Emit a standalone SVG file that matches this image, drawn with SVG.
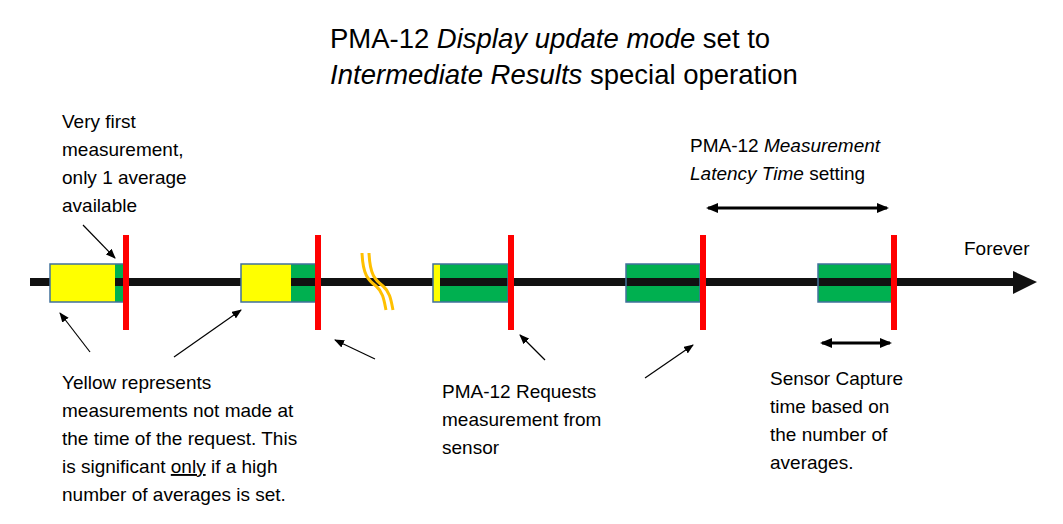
<svg xmlns="http://www.w3.org/2000/svg" width="1063" height="524" viewBox="0 0 1063 524">
<style>
text{font-family:"Liberation Sans",Arial,sans-serif;fill:#000}
.t{font-size:27.5px}.l{font-size:19px}
.y{fill:#ffff00}.g{fill:#00b050}.o{fill:none;stroke:#41719c;stroke-width:1.5}
.r{fill:#ff0000}
.a{stroke:#000;stroke-width:1.2;fill:none;marker-end:url(#ah)}
.d{stroke:#000;stroke-width:3;fill:none;marker-start:url(#dh);marker-end:url(#dh)}
</style>
<defs>
<marker id="ah" markerWidth="10" markerHeight="8" refX="9" refY="4" orient="auto" markerUnits="userSpaceOnUse"><path d="M0,0L10,4L0,8z"/></marker>
<marker id="dh" markerWidth="12" markerHeight="10" refX="10" refY="5" orient="auto-start-reverse" markerUnits="userSpaceOnUse"><path d="M0,0L12,5L0,10z"/></marker>
</defs>
<rect width="1063" height="524" fill="#fff"/>
<text class="t" text-anchor="middle" x="550" y="48">PMA-12 <tspan font-style="italic">Display update mode</tspan> set to</text>
<text class="t" text-anchor="middle" x="564" y="84"><tspan font-style="italic">Intermediate Results</tspan> special operation</text>
<g id="timeline"><rect x="30" y="278" width="985" height="8" fill="#111"/><path d="M1013,271L1037,282L1013,294z" fill="#111"/>
<text class="l" x="964" y="255">Forever</text></g>
<g id="m1"><rect class="y" x="50" y="264" width="65" height="38"/><rect class="g" x="115" y="264" width="10" height="38"/><rect x="115" y="278" width="10" height="8" fill="#111"/><rect class="o" x="50" y="264" width="75" height="38"/><rect class="r" x="123" y="235" width="6" height="95"/></g>
<g id="m2"><rect class="y" x="241" y="264" width="50" height="38"/><rect class="g" x="291" y="264" width="25" height="38"/><rect x="291" y="278" width="25" height="8" fill="#111"/><rect class="o" x="241" y="264" width="75" height="38"/><rect class="r" x="315" y="235" width="6" height="95"/></g>
<g id="brk" fill="none" stroke="#ffc000" stroke-width="3"><path d="M362,253C363,275 368,280 376,286C383,292 384,300 386,310"/><path d="M369,253C370,275 375,280 383,286C390,292 391,300 393,310"/></g>
<g id="m3"><rect class="y" x="433" y="264" width="7" height="38"/><rect class="g" x="440" y="264" width="68" height="38"/><rect x="440" y="278" width="68" height="8" fill="#111"/><rect class="o" x="433" y="264" width="75" height="38"/><rect class="r" x="508" y="235" width="6" height="95"/></g>
<g id="m4"><rect class="g" x="626" y="264" width="74" height="38"/><rect x="626" y="278" width="74" height="8" fill="#111"/><rect class="o" x="626" y="264" width="74" height="38"/><rect class="r" x="700" y="235" width="6" height="95"/></g>
<g id="m5"><rect class="g" x="818" y="264" width="74" height="38"/><rect x="818" y="278" width="74" height="8" fill="#111"/><rect class="o" x="818" y="264" width="74" height="38"/><rect class="r" x="891" y="235" width="6" height="95"/></g>
<g id="connectors">
<line class="a" x1="83" y1="225" x2="115" y2="258"/>
<line class="a" x1="90" y1="352" x2="60" y2="313"/>
<line class="a" x1="174" y1="357" x2="241" y2="310"/>
<line class="a" x1="375" y1="359" x2="335" y2="340"/>
<line class="a" x1="545" y1="360" x2="520" y2="335"/>
<line class="a" x1="645" y1="378" x2="693" y2="345"/>
<line class="d" x1="708" y1="208" x2="887" y2="208"/>
<line class="d" x1="822" y1="343" x2="890" y2="343"/>
</g>
<g id="lbl1"><text class="l" x="62" y="128">Very first</text><text class="l" x="62" y="156">measurement,</text><text class="l" x="62" y="184">only 1 average</text><text class="l" x="62" y="212">available</text></g>
<g id="lbl2"><text class="l" x="690" y="152">PMA-12 <tspan font-style="italic">Measurement</tspan></text><text class="l" x="690" y="180"><tspan font-style="italic">Latency Time</tspan> setting</text></g>
<g id="lbl3"><text class="l" x="62" y="389">Yellow represents</text><text class="l" x="62" y="417">measurements not made at</text><text class="l" x="62" y="445">the time of the request. This</text><text class="l" x="62" y="473">is significant <tspan text-decoration="underline">only</tspan> if a high</text><text class="l" x="62" y="501">number of averages is set.</text></g>
<g id="lbl4"><text class="l" x="442" y="398">PMA-12 Requests</text><text class="l" x="442" y="426">measurement from</text><text class="l" x="442" y="454">sensor</text></g>
<g id="lbl5"><text class="l" x="770" y="385">Sensor Capture</text><text class="l" x="770" y="413">time based on</text><text class="l" x="770" y="441">the number of</text><text class="l" x="770" y="469">averages.</text></g>
</svg>
